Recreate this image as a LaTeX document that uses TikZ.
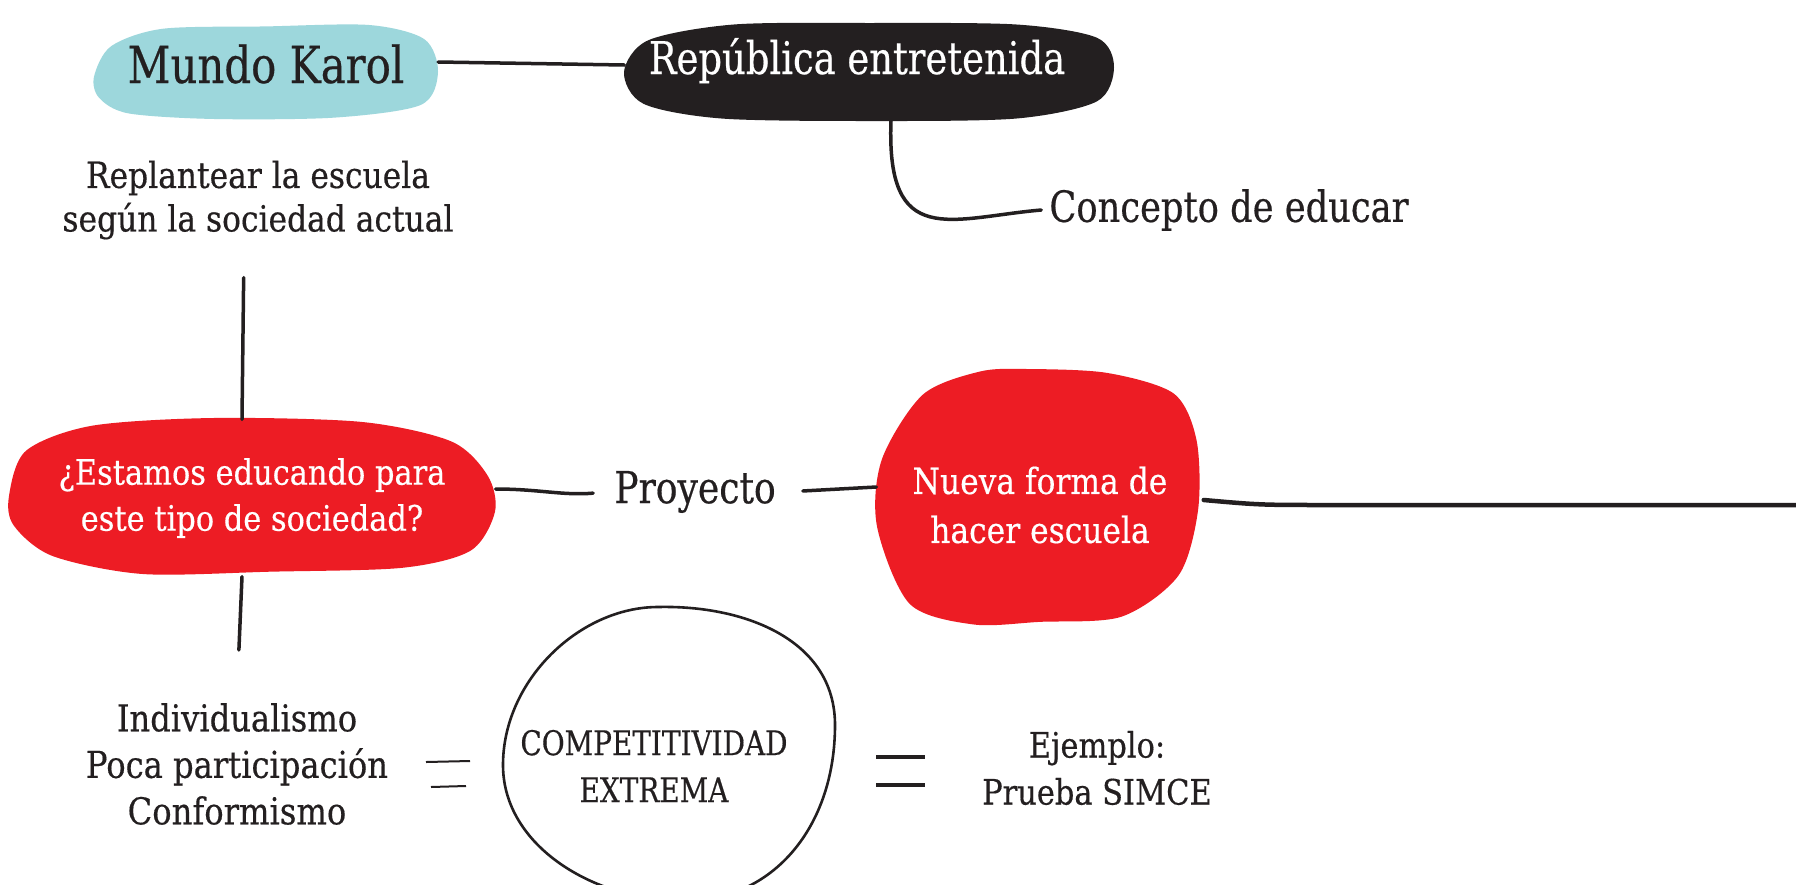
\documentclass[tikz,border=0pt]{standalone}
\usepackage{fontspec}
\setmainfont[FakeStretch=0.82, FakeBold=0.4]{DejaVu Serif}
\newfontfamily\nota[FakeStretch=0.87, FakeBold=0.4]{DejaVu Serif}
\usetikzlibrary{backgrounds}
\definecolor{ink}{HTML}{231F20}
\definecolor{karol}{HTML}{9DD7DC}
\definecolor{rojo}{HTML}{ED1C24}

\begin{document}
\begin{tikzpicture}[
    x=1pt, y=-1pt,
    klump/.style = {inner sep=0pt, align=center},
    tekst/.style = {inner sep=8pt, align=center, text=ink},
    pil/.style = {ink, line width=3.5pt, line cap=round},
    ]
  \useasboundingbox (0,0) rectangle (1796,884);

  \node[klump, minimum width=344pt, minimum height=93pt, text height=38pt, text depth=16pt,
        text=ink, font=\fontsize{51}{60}\selectfont] (mk) at (266,72) {Mundo Karol};
  \node[klump, minimum width=489pt, minimum height=97pt, text height=38pt, text depth=34pt,
        text=white, font=\fontsize{45}{54}\selectfont] (rep) at (869,72) {República entretenida\hspace*{24pt}};
  \node[tekst, font=\fontsize{43}{52}\selectfont] (con) at (1229,210) {Concepto de educar};
  \node[tekst, font=\nota\fontsize{36}{43.5}\selectfont] (repl) at (258,200) {Replantear la escuela\\según la sociedad actual};

  \node[klump, minimum width=487pt, minimum height=157pt, text=white,
        font=\nota\fontsize{35}{46}\selectfont] (est) at (252,498) {¿Estamos educando para\\este tipo de sociedad?};
  \node[tekst, font=\fontsize{44}{53}\selectfont] (proy) at (695,492) {Proyecto};
  \node[klump, minimum width=327pt, minimum height=258pt, text=white,
        font=\nota\fontsize{36}{49}\selectfont] (nueva) at (1040,505) {Nueva forma de\\hacer escuela};
  \coordinate (rim) at (1796,505);

  \node[tekst, font=\nota\fontsize{37}{46.5}\selectfont] (ind) at (237,764) {Individualismo\\Poca participación\\Conformismo};
  \node[tekst, font=\fontsize{34}{47}\selectfont] (comp) at (654,766) {COMPETITIVIDAD\\EXTREMA};
  \node[tekst, font=\nota\fontsize{35}{47}\selectfont] (ejem) at (1097,768) {Ejemplo:\\Prueba SIMCE};

  \begin{scope}[on background layer]
    \fill[white] (0,0) rectangle (1796,884);
    \fill[karol, shift={(mk.center)}, xscale=172, yscale=47] plot[smooth cycle] coordinates
      {(-1,0.1) (-0.9,-0.55) (-0.6,-0.92) (0,-0.97) (0.6,-1) (0.92,-0.7) (1,0)
       (0.9,0.7) (0.4,0.97) (-0.3,1) (-0.8,0.88) (-0.97,0.55)};
    \fill[ink, shift={(rep.center)}, xscale=245, yscale=49] plot[smooth cycle] coordinates
      {(-1,0) (-0.9,-0.65) (-0.55,-0.97) (0,-1) (0.6,-0.97) (0.93,-0.7) (1,-0.1)
       (0.93,0.6) (0.6,0.95) (0,1) (-0.6,0.95) (-0.92,0.65)};
    \fill[rojo, shift={(est.center)}, shift={(0,-2)}, xscale=243, yscale=78] plot[smooth cycle] coordinates
      {(-1,0) (-0.93,-0.58) (-0.66,-0.9) (-0.16,-1) (0.45,-0.95) (0.82,-0.7) (0.97,-0.26)
       (1,0.2) (0.9,0.7) (0.62,0.92) (0.08,0.97) (-0.45,1) (-0.82,0.77) (-0.98,0.38)};
    \fill[rojo, shift={(nueva.center)}, shift={(0,-7)}, xscale=163, yscale=129] plot[smooth cycle] coordinates
      {(-0.08,-1) (0.41,-0.97) (0.82,-0.81) (0.96,-0.45) (0.97,0.09) (0.85,0.6) (0.5,0.92)
       (0,0.96) (-0.41,0.98) (-0.8,0.82) (-1,0.22) (-0.97,-0.3) (-0.72,-0.8) (-0.37,-0.98)};
  \end{scope}

  % egg round the middle text
  \draw[ink, line width=2.6pt, shift={(comp.center)}]
    (4,-159) .. controls (91,-161) and (181,-126) .. (181,-41)
    .. controls (181,60) and (120,135) .. (30,135)
    .. controls (-60,135) and (-151,80) .. (-151,-1)
    .. controls (-151,-86) and (-74,-159) .. cycle;

  \draw[pil] ([yshift=10pt]mk.east) -- ([yshift=7pt]rep.west);
  \draw[pil] ([xshift=22pt]rep.south) .. controls (886,250) and (950,218) .. (con.west);
  \draw[pil, shorten <=30pt] ([xshift=-14pt]repl.south) -- ([xshift=-10pt]est.north);
  \draw[pil, shorten >=45pt] ([xshift=-10pt]est.south) -- (ind.north);
  \draw[pil, shorten >=13pt] ([yshift=9pt]est.east) to[out=0, in=185] (proy.west);
  \draw[pil, shorten <=19pt] (proy.east) -- ([yshift=18pt]nueva.west);
  \draw[pil, line width=4.5pt] ([yshift=5pt]nueva.east) .. controls (1260,505) .. (1330,505) -- (rim);

  % the two = signs
  \draw[ink, line width=2pt] (426,762) -- (470,761) (431,787) -- (466,786);
  \draw[ink, line width=4.5pt] (876,757) -- (925,757) (876,785) -- (925,785);
\end{tikzpicture}
\end{document}
